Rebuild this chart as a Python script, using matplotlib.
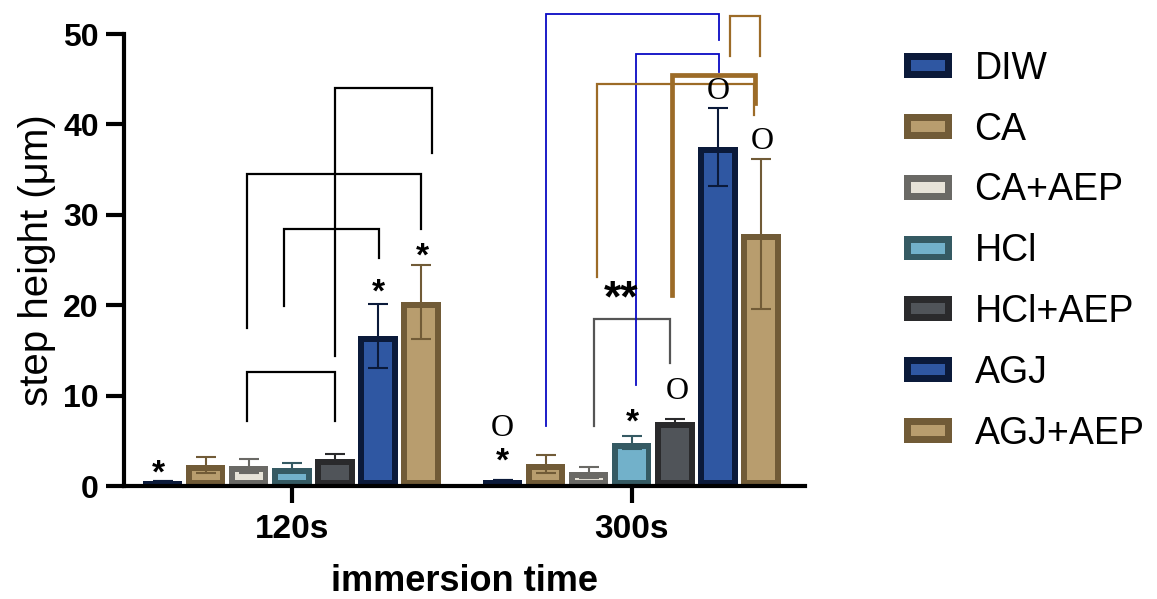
import numpy as np
import matplotlib.pyplot as plt
from matplotlib.patches import Rectangle
from matplotlib.legend_handler import HandlerBase

plt.rcParams['font.family'] = ['Liberation Sans', 'DejaVu Sans']

groups = ['120s', '300s']
series = ['DIW', 'CA', 'CA+AEP', 'HCl', 'HCl+AEP', 'AGJ', 'AGJ+AEP']
mean_120 = [0.6, 2.3, 2.2, 2.0, 3.0, 16.6, 20.4]
err_120 = [0.0, 0.9, 0.8, 0.5, 0.5, 3.5, 4.1]
mean_300 = [0.7, 2.4, 1.5, 4.8, 7.1, 37.5, 27.9]
err_300 = [0.0, 1.0, 0.6, 0.7, 0.3, 4.3, 8.3]

edge_colors = ['#0b1a3a', '#715b37', '#6a6965', '#355a63', '#2a2a2c', '#0b1a3a', '#715b37']
fill_colors = ['#2f57a2', '#b89d6e', '#e7e3d8', '#72b1ca', '#505459', '#2f57a2', '#b89d6e']

# significance brackets: x1, x2, top, left leg end, right leg end, colour, width
brackets = [
    (-0.132, 0.126, 12.6, 7.2, 7.2, 'black', 1.6),
    (-0.024, 0.256, 28.4, 19.9, 25.2, 'black', 1.6),
    (-0.132, 0.379, 34.5, 17.5, 28.4, 'black', 1.6),
    (0.126, 0.412, 44.0, 14.4, 36.8, 'black', 1.6),
    (0.888, 1.112, 18.5, 6.6, 13.6, '#555555', 1.6),
    (0.747, 1.256, 52.2, 6.6, 49.3, '#0a0ac4', 1.3),
    (1.012, 1.256, 47.8, 11.2, 45.8, '#0a0ac4', 1.3),
    (1.288, 1.376, 52.0, 47.6, 47.6, '#9c6b27', 1.6),
    (0.897, 1.359, 44.5, 23.1, 41.0, '#9c6b27', 1.6),
    (1.118, 1.362, 45.5, 21.1, 42.4, '#9c6b27', 3.4),
]

# markers above bars: x, y
stars = [(-0.394, 1.3), (0.253, 21.3), (0.385, 25.3), (0.618, 2.6), (1.0, 7.0)]
circles = [(0.618, 6.4), (1.132, 10.4), (1.253, 43.6), (1.382, 38.1)]


class InsetHandler(HandlerBase):
    def create_artists(self, legend, orig_handle, xdescent, ydescent,
                       width, height, fontsize, trans):
        pad = 5
        outer = Rectangle((-xdescent, -ydescent), width, height,
                          facecolor=orig_handle.get_edgecolor(), edgecolor='none',
                          transform=trans)
        inner = Rectangle((-xdescent + pad, -ydescent + pad), width - 2 * pad,
                          height - 2 * pad, facecolor=orig_handle.get_facecolor(),
                          edgecolor='none', transform=trans)
        return [outer, inner]


fig = plt.figure(figsize=(11.57, 5.99), dpi=100)
ax = fig.add_axes([124 / 1157, 113 / 599, 681 / 1157, 452 / 599])

step = 0.1265
width = 0.115
dx = 0.0176
dy = 0.66
x = np.arange(len(groups))
handles = []
for i, name in enumerate(series):
    xs = x + (i - 3) * step
    vals = np.array([mean_120[i], mean_300[i]])
    errs = np.array([err_120[i], err_300[i]])
    ax.bar(xs, vals, width, color=edge_colors[i], zorder=2)
    ax.bar(xs, np.maximum(vals - 2 * dy, 0), width - 2 * dx, bottom=dy,
           color=fill_colors[i], zorder=3)
    ax.errorbar(xs, vals, yerr=errs, fmt='none', ecolor=edge_colors[i],
                elinewidth=1.5, capsize=7, capthick=1.5, zorder=4)
    handles.append(Rectangle((0, 0), 1, 1, facecolor=fill_colors[i],
                             edgecolor=edge_colors[i]))

for x1, x2, top, yl, yr, c, lw in brackets:
    ax.plot([x1, x1, x2, x2], [yl, top, top, yr], color=c, lw=lw,
            clip_on=False, solid_joinstyle='miter', zorder=5)

for sx, sy in stars:
    ax.text(sx, sy, '*', fontsize=24, fontweight='bold', ha='center', va='center', zorder=6)
for cx, cy in circles:
    ax.text(cx, cy, 'O', fontsize=23, family='Liberation Serif', ha='center',
            va='center', zorder=6)
ax.text(0.968, 20.6, '**', fontsize=32, fontweight='bold', ha='center', va='center', zorder=6)

ax.set_xlim(-0.494, 1.509)
ax.set_ylim(0, 50)
ax.set_yticks(np.arange(0, 51, 10))
ax.set_xticks(x)
ax.set_xticklabels(groups)
for side in ['top', 'right']:
    ax.spines[side].set_visible(False)
for side in ['left', 'bottom']:
    ax.spines[side].set_linewidth(3)
ax.tick_params(axis='y', length=13, width=3, labelsize=23, pad=5)
ax.tick_params(axis='x', length=12, width=3, labelsize=24, pad=8)
plt.setp(ax.get_xticklabels() + ax.get_yticklabels(), fontweight='bold')

ax.set_ylabel('step height (μm)', fontsize=29, labelpad=5)
ax.set_xlabel('immersion time', fontsize=26, fontweight='bold', labelpad=14)

fig.legend(handles, series, handler_map={Rectangle: InsetHandler()},
           loc='upper left', bbox_to_anchor=(904 / 1157, 1 - 51 / 599),
           frameon=False, fontsize=27, handlelength=1.28, handleheight=0.64,
           handletextpad=0.6, labelspacing=0.66, borderpad=0, borderaxespad=0)

fig.savefig('out.png', dpi=100)
